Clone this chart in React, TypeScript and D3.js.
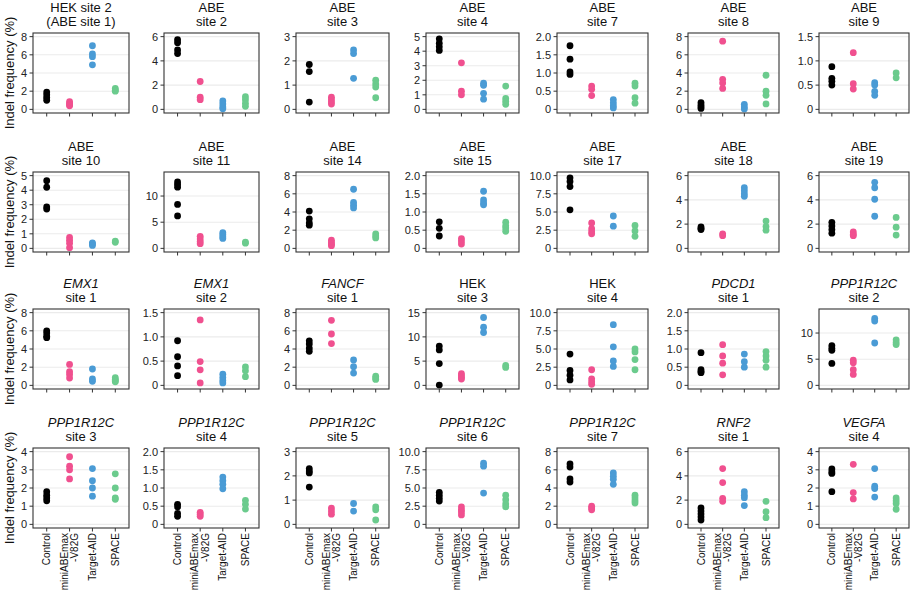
import React from 'react';
import * as d3 from 'd3';

const categories = ['Control', 'miniABEmax\n-V82G', 'Target-AID', 'SPACE'];
const seriesColors = ['#000000', '#F0508F', '#4A9BD5', '#6BCB8D'];

const titleLine1 = [
  'HEK site 2', 'ABE', 'ABE', 'ABE', 'ABE', 'ABE', 'ABE',
  'ABE', 'ABE', 'ABE', 'ABE', 'ABE', 'ABE', 'ABE',
  'EMX1', 'EMX1', 'FANCF', 'HEK', 'HEK', 'PDCD1', 'PPP1R12C',
  'PPP1R12C', 'PPP1R12C', 'PPP1R12C', 'PPP1R12C', 'PPP1R12C', 'RNF2', 'VEGFA',
];
const titleLine2 = [
  '(ABE site 1)', 'site 2', 'site 3', 'site 4', 'site 7', 'site 8', 'site 9',
  'site 10', 'site 11', 'site 14', 'site 15', 'site 17', 'site 18', 'site 19',
  'site 1', 'site 2', 'site 1', 'site 3', 'site 4', 'site 1', 'site 2',
  'site 3', 'site 4', 'site 5', 'site 6', 'site 7', 'site 1', 'site 4',
];
const titleItalic = [
  false, false, false, false, false, false, false,
  false, false, false, false, false, false, false,
  true, true, true, false, false, true, true,
  true, true, true, true, true, true, true,
];

const yMax = [
  8, 6, 3, 5, 2, 8, 1.5,
  5, 13.9, 8, 2, 10, 6, 6,
  8, 1.5, 8, 15, 10, 2, 13.9,
  4, 2, 3, 10, 8, 6, 4,
];

const yTicks = [
  [0, 2, 4, 6, 8], [0, 2, 4, 6], [0, 1, 2, 3], [0, 1, 2, 3, 4, 5], [0, 0.5, 1, 1.5, 2], [0, 2, 4, 6, 8], [0, 0.5, 1, 1.5],
  [0, 1, 2, 3, 4, 5], [0, 5, 10], [0, 2, 4, 6, 8], [0, 0.5, 1, 1.5, 2], [0, 2.5, 5, 7.5, 10], [0, 2, 4, 6], [0, 2, 4, 6],
  [0, 2, 4, 6, 8], [0, 0.5, 1, 1.5], [0, 2, 4, 6, 8], [0, 5, 10, 15], [0, 2.5, 5, 7.5, 10], [0, 0.5, 1, 1.5, 2], [0, 5, 10],
  [0, 1, 2, 3, 4], [0, 0.5, 1, 1.5, 2], [0, 1, 2, 3], [0, 2.5, 5, 7.5, 10], [0, 2, 4, 6, 8], [0, 2, 4, 6], [0, 1, 2, 3, 4],
];

const controlVals = [
  [1.9, 1.6, 1.3, 1.0], [5.75, 5.5, 4.9, 4.6], [1.85, 1.56, 0.3], [4.85, 4.55, 4.3, 4.05], [1.75, 1.38, 1.03, 0.96], [0.75, 0.5, 0.3, 0.1], [0.88, 0.64, 0.58, 0.5],
  [4.65, 4.2, 2.85, 2.7], [12.7, 12.2, 11.7, 8.4, 6.2], [4.1, 3.25, 2.8, 2.55], [0.73, 0.55, 0.34], [9.7, 9.2, 8.5, 5.3], [1.78, 1.65, 1.55], [2.15, 1.85, 1.55, 1.25],
  [6.0, 5.75, 5.4, 5.25], [0.92, 0.59, 0.4, 0.2], [4.9, 4.55, 4.1, 3.75], [8.1, 7.3, 4.5, 0.05], [4.3, 2.05, 1.4, 0.75], [0.9, 0.43, 0.38, 0.35], [7.6, 7.1, 6.7, 4.2],
  [1.8, 1.6, 1.45, 1.3], [0.55, 0.48, 0.3, 0.22], [2.3, 2.2, 2.12, 1.54], [4.4, 4.0, 3.6, 3.2], [6.65, 6.3, 5.0, 4.65], [1.35, 1.1, 0.85, 0.6, 0.35], [3.05, 2.9, 2.8, 1.8],
];
const v82gVals = [
  [0.85, 0.65, 0.5, 0.4], [2.3, 1.0, 0.8], [0.5, 0.4, 0.3, 0.22], [3.2, 1.25, 1.0], [0.64, 0.55, 0.38], [7.5, 3.3, 2.9, 2.3], [1.17, 0.53, 0.42],
  [0.75, 0.55, 0.35, 0.05], [2.3, 1.8, 1.3, 0.9], [0.9, 0.65, 0.45, 0.3], [0.27, 0.2, 0.12], [3.5, 2.7, 2.3, 2.0], [1.2, 1.05], [1.35, 1.15, 1.05],
  [2.3, 1.5, 1.2, 0.8], [1.35, 0.49, 0.32, 0.05], [7.15, 5.65, 4.6], [2.4, 2.0, 1.6, 1.3], [2.15, 0.9, 0.5, 0.15], [1.12, 0.81, 0.61, 0.29], [4.8, 4.3, 3.0, 2.1],
  [3.72, 3.2, 3.0, 2.5], [0.33, 0.28, 0.22], [0.67, 0.55, 0.42], [2.4, 2.0, 1.7, 1.3], [2.0, 1.8, 1.6], [4.6, 3.45, 2.15, 1.9], [3.3, 1.75, 1.4],
];
const targetAidVals = [
  [7.0, 6.1, 5.8, 4.9], [0.7, 0.45, 0.2, 0.05], [2.45, 2.3, 1.28], [1.8, 1.65, 1.1, 0.7], [0.27, 0.18, 0.1, 0.04], [0.55, 0.25, 0.05], [0.55, 0.5, 0.37, 0.29],
  [0.38, 0.3, 0.2], [3.0, 2.6, 2.2, 1.9], [6.5, 5.05, 4.75, 4.45], [1.57, 1.33, 1.25, 1.2], [4.45, 3.05], [5.0, 4.75, 4.5, 4.3], [5.45, 5.0, 4.05, 2.65],
  [1.8, 0.7, 0.45], [0.23, 0.16, 0.1, 0.05], [2.8, 2.05, 1.35], [14.0, 12.0, 10.9], [8.35, 5.3, 3.35, 2.6], [0.86, 0.65, 0.5], [12.8, 12.3, 8.1],
  [3.07, 2.4, 2.0, 1.55], [1.3, 1.2, 1.1, 0.98], [0.86, 0.55], [8.4, 8.0, 4.3], [5.65, 5.3, 4.95, 4.4], [2.7, 2.4, 2.2, 1.55], [3.07, 2.1, 1.97, 1.5],
];
const spaceVals = [
  [2.3, 2.1, 2.0], [1.05, 0.8, 0.5, 0.25], [1.2, 1.05, 0.92, 0.48], [1.6, 0.75, 0.55, 0.35], [0.72, 0.64, 0.32, 0.17], [3.75, 2.0, 1.55, 0.6], [0.75, 0.65],
  [0.5, 0.42], [1.2, 1.0], [1.6, 1.35, 1.15], [0.72, 0.62, 0.56, 0.47], [3.15, 2.4, 1.65], [2.25, 1.8, 1.5], [2.55, 1.75, 1.1],
  [0.85, 0.65, 0.5, 0.4], [0.38, 0.3, 0.18], [1.0, 0.8, 0.65], [4.1, 3.7], [5.0, 4.6, 3.55, 2.15], [0.93, 0.81, 0.69, 0.5], [8.7, 8.2, 7.8],
  [2.78, 2.0, 1.45, 1.38], [0.66, 0.55, 0.42], [0.72, 0.6, 0.18], [4.0, 3.4, 2.8, 2.4], [3.2, 2.9, 2.6, 2.35], [1.9, 1.05, 0.55], [1.45, 1.3, 1.15, 0.83],
];

const yTitle = 'Indel frequency (%)';

// layout
const W = 914;
const H = 592;
const colLeft = [33, 164, 296, 426, 557, 688, 819];
const colRight = [129, 259, 389, 519, 648, 779, 909];
const rowTop = [33, 172, 309, 448];
const boxH = 80;
const FONT = 'Liberation Sans, Arial, Helvetica, sans-serif';

function fmtTick(v: number, ticks: number[]) {
  if (v === 0) return '0';
  const dec = ticks.some((t) => Math.round(t) !== t) ? 1 : 0;
  return d3.format(`.${dec}f`)(v);
}

function Panel({ i }: { i: number }) {
  const col = i % 7;
  const row = Math.floor(i / 7);
  const x0 = colLeft[col];
  const x1 = colRight[col];
  const y0 = rowTop[row];
  const y1 = y0 + boxH;
  const m = yMax[i];
  const y = d3.scaleLinear().domain([-0.05 * m, 1.05 * m]).range([y1, y0]);
  const x = d3.scalePoint<string>().domain(categories).range([x0, x1]).padding(0.6);
  const series = [controlVals[i], v82gVals[i], targetAidVals[i], spaceVals[i]];
  const cx = (x0 + x1) / 2;
  const ticks = yTicks[i];
  return (
    <g>
      <text x={cx} y={y0 - 21} textAnchor="middle" fontSize={13} fill="#111" fontStyle={titleItalic[i] ? 'italic' : 'normal'}>
        {titleLine1[i]}
      </text>
      <text x={cx} y={y0 - 7} textAnchor="middle" fontSize={13} fill="#111">
        {titleLine2[i]}
      </text>
      <rect x={x0} y={y0} width={x1 - x0} height={boxH} fill="#fff" />
      {ticks.map((t) => (
        <line key={'g' + t} x1={x0} x2={x1} y1={y(t)} y2={y(t)} stroke="#EBEBEB" strokeWidth={1.1} />
      ))}
      {series.map((vals, s) =>
        vals.map((v, k) => (
          <circle key={s + '-' + k} cx={x(categories[s])} cy={y(v)} r={3.4} fill={seriesColors[s]} />
        ))
      )}
      <rect x={x0} y={y0} width={x1 - x0} height={boxH} fill="none" stroke="#333" strokeWidth={1.1} />
      {ticks.map((t) => (
        <g key={'t' + t}>
          <line x1={x0 - 3.5} x2={x0} y1={y(t)} y2={y(t)} stroke="#333" strokeWidth={1} />
          <text x={x0 - 6} y={y(t)} textAnchor="end" dominantBaseline="central" fontSize={11} fill="#222">
            {fmtTick(t, ticks)}
          </text>
        </g>
      ))}
      {categories.map((c) => (
        <line key={'xt' + c} x1={x(c)} x2={x(c)} y1={y1} y2={y1 + 3.5} stroke="#333" strokeWidth={1} />
      ))}
      {row === 3 &&
        categories.map((c) => {
          const lines = c.split('\n');
          const px = x(c) as number;
          return lines.map((ln, li) => {
            const off = (li - (lines.length - 1) / 2) * 10.5;
            return (
              <text
                key={'xl' + c + li}
                transform={`translate(${px + off},${y1 + 5}) rotate(-90)`}
                textAnchor="end"
                dominantBaseline="central"
                fontSize={10}
                fill="#111"
              >
                {ln}
              </text>
            );
          });
        })}
    </g>
  );
}

export default function App() {
  const idx = d3.range(28);
  return (
    <div style={{ position: 'relative', width: W, height: H }}>
      <svg
        width={W}
        height={H}
        style={{ position: 'fixed', left: 0, top: 0, background: '#fff' }}
        fontFamily={FONT}
      >
        <rect x={0} y={0} width={W} height={H} fill="#fff" />
        {rowTop.map((t, r) => (
          <text
            key={'yt' + r}
            transform={`translate(9,${t + boxH / 2}) rotate(-90)`}
            textAnchor="middle"
            dominantBaseline="central"
            fontSize={13}
            fill="#111"
          >
            {yTitle}
          </text>
        ))}
        {idx.map((i) => (
          <Panel key={i} i={i} />
        ))}
      </svg>
    </div>
  );
}
